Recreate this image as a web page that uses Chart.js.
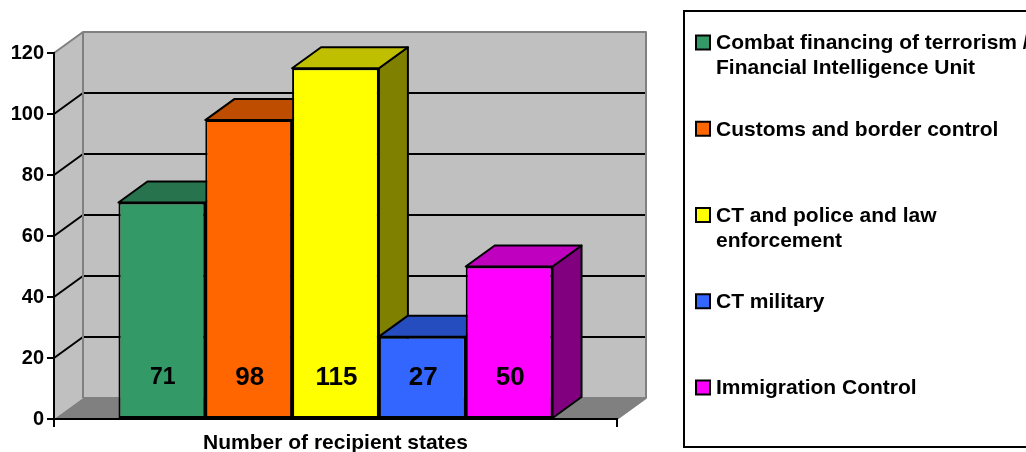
<!DOCTYPE html>
<html>
<head>
<meta charset="utf-8">
<script src="https://cdn.jsdelivr.net/npm/chart.js@4/dist/chart.umd.min.js"></script>
<style>
    html, body { margin: 0; padding: 0; background: #fff; }
    #wrap { width: 1026px; height: 452px; position: relative; }
</style>
</head>
<body>
<div id="wrap"><canvas id="chart"></canvas></div>
<script>
const categories = ['Number of recipient states'];
const seriesNames = [
    'Combat financing of terrorism / Financial Intelligence Unit',
    'Customs and border control',
    'CT and police and law enforcement',
    'CT military',
    'Immigration Control'
];
const seriesValues = [71, 98, 115, 27, 50];
const yTicks = [0, 20, 40, 60, 80, 100, 120];

// legend wrapping as it appears in the box
const legendLines = [
    ['Combat financing of terrorism /', 'Financial Intelligence Unit'],
    ['Customs and border control'],
    ['CT and police and law', 'enforcement'],
    ['CT military'],
    ['Immigration Control']
];

const frontColors = ['#339966', '#FF6600', '#FFFF00', '#3366FF', '#FF00FF'];
const labelFontSizes = [23, 26, 26, 26, 26];

const DX = 29;   // depth offset of the 3d walls / bars
const DY = 21;
const FONT = '"Liberation Sans", Arial, sans-serif';

function shade(hex, k) {
    const n = parseInt(hex.slice(1), 16);
    const r = Math.round(((n >> 16) & 255) * k);
    const g = Math.round(((n >> 8) & 255) * k);
    const b = Math.round((n & 255) * k);
    return `rgb(${r},${g},${b})`;
}

function poly(ctx, pts, fill, stroke, lw) {
    ctx.beginPath();
    ctx.moveTo(pts[0][0], pts[0][1]);
    for (let i = 1; i < pts.length; i++) ctx.lineTo(pts[i][0], pts[i][1]);
    ctx.closePath();
    if (fill) { ctx.fillStyle = fill; ctx.fill(); }
    if (stroke) { ctx.strokeStyle = stroke; ctx.lineWidth = lw; ctx.stroke(); }
}

// back wall, side wall, floor and gridlines
const wallsPlugin = {
    id: 'walls',
    beforeDraw(chart) {
        const { ctx, chartArea: a } = chart;
        const y = chart.scales.y;
        const y0 = y.getPixelForValue(0);
        const yMax = y.getPixelForValue(yTicks[yTicks.length - 1]);
        ctx.save();
        ctx.lineJoin = 'round';
        // side wall
        poly(ctx, [[a.left, yMax], [a.left + DX, yMax - DY], [a.left + DX, y0 - DY], [a.left, y0]], '#C0C0C0');
        // back wall
        poly(ctx, [[a.left + DX, yMax - DY], [a.right + DX, yMax - DY], [a.right + DX, y0 - DY], [a.left + DX, y0 - DY]], '#C0C0C0');
        // floor
        poly(ctx, [[a.left, y0], [a.left + DX, y0 - DY], [a.right + DX, y0 - DY], [a.right, y0]], '#808080');

        // gridlines
        ctx.strokeStyle = '#000';
        ctx.lineWidth = 2;
        yTicks.slice(1, -1).forEach(v => {
            const py = y.getPixelForValue(v);
            ctx.beginPath();
            ctx.moveTo(a.left, py);
            ctx.lineTo(a.left + DX, py - DY);
            ctx.lineTo(a.right + DX, py - DY);
            ctx.stroke();
        });

        // wall edges
        ctx.strokeStyle = '#808080';
        ctx.lineWidth = 2;
        ctx.beginPath();
        ctx.moveTo(a.left, yMax);
        ctx.lineTo(a.left + DX, yMax - DY);
        ctx.lineTo(a.right + DX, yMax - DY);
        ctx.lineTo(a.right + DX, y0 - DY);
        ctx.lineTo(a.left + DX, y0 - DY);
        ctx.moveTo(a.left + DX, yMax - DY);
        ctx.lineTo(a.left + DX, y0 - DY);
        ctx.moveTo(a.right + DX, y0 - DY);
        ctx.lineTo(a.right, y0);
        ctx.stroke();
        ctx.restore();
    }
};

// top and side faces of the bars, drawn left to right before the fronts
const depthPlugin = {
    id: 'depth',
    beforeDatasetsDraw(chart) {
        const ctx = chart.ctx;
        ctx.save();
        ctx.lineJoin = 'round';
        chart.data.datasets.forEach((ds, i) => {
            const bar = chart.getDatasetMeta(i).data[0];
            if (!bar) return;
            const L = bar.x - bar.width / 2;
            const R = bar.x + bar.width / 2;
            const T = bar.y;
            const B = bar.base;
            poly(ctx, [[R, T], [R + DX, T - DY], [R + DX, B - DY], [R, B]], shade(frontColors[i], 0.5), '#000', 2);
            poly(ctx, [[L, T], [L + DX, T - DY], [R + DX, T - DY], [R, T]], shade(frontColors[i], 0.75), '#000', 2);
        });
        ctx.restore();
    },
    afterDatasetsDraw(chart) {
        const ctx = chart.ctx;
        ctx.save();
        ctx.fillStyle = '#000';
        ctx.textAlign = 'center';
        ctx.textBaseline = 'middle';
        chart.data.datasets.forEach((ds, i) => {
            const bar = chart.getDatasetMeta(i).data[0];
            if (!bar) return;
            ctx.font = `bold ${labelFontSizes[i]}px ${FONT}`;
            ctx.fillText(String(ds.data[0]), bar.x + 1, bar.base - 40);
        });
        ctx.restore();
    }
};

const legendPlugin = {
    id: 'boxLegend',
    afterDraw(chart) {
        const ctx = chart.ctx;
        ctx.save();
        ctx.strokeStyle = '#000';
        ctx.lineWidth = 2;
        ctx.strokeRect(684, 11, 400, 436);
        ctx.font = `bold 21px ${FONT}`;
        ctx.textBaseline = 'middle';
        ctx.textAlign = 'left';
        chart.data.datasets.forEach((ds, i) => {
            const yc = 42.5 + i * 86.25;
            ctx.fillStyle = ds.backgroundColor;
            ctx.fillRect(696, yc - 7, 14, 14);
            ctx.lineWidth = 2;
            ctx.strokeRect(696, yc - 7, 14, 14);
            ctx.fillStyle = '#000';
            legendLines[i].forEach((line, j) => {
                ctx.fillText(line, 716, yc + 1 + j * 25);
            });
        });
        ctx.restore();
    }
};

const datasets = seriesNames.map((name, i) => ({
    label: name,
    data: [seriesValues[i]],
    backgroundColor: frontColors[i],
    borderColor: '#000',
    borderWidth: 2,
    borderSkipped: false,
    barPercentage: 1,
    categoryPercentage: 0.771
}));

new Chart(document.getElementById('chart'), {
    type: 'bar',
    data: { labels: categories, datasets },
    options: {
        animation: false,
        responsive: true,
        maintainAspectRatio: false,
        layout: { padding: { top: 53, right: 409, left: 0, bottom: 0 } },
        scales: {
            x: {
                z: 1,
                afterFit: s => { s.height = 33; },
                grid: { offset: true, drawOnChartArea: false, color: '#000', lineWidth: 2, tickLength: 8 },
                border: { color: '#000', width: 2 },
                ticks: { color: '#000', padding: 4, font: { family: FONT, size: 21, weight: 'bold' } }
            },
            y: {
                z: 1,
                min: 0,
                max: 120,
                afterFit: s => { s.width = 54; },
                afterBuildTicks: s => { s.ticks = yTicks.map(v => ({ value: v })); },
                grid: { drawOnChartArea: false, color: '#000', lineWidth: 2, tickLength: 7 },
                border: { color: '#000', width: 2 },
                ticks: { color: '#000', padding: 3, font: { family: FONT, size: 20, weight: 'bold' } }
            }
        },
        plugins: {
            legend: { display: false },
            tooltip: { enabled: false }
        }
    },
    plugins: [wallsPlugin, depthPlugin, legendPlugin]
});
</script>
</body>
</html>
